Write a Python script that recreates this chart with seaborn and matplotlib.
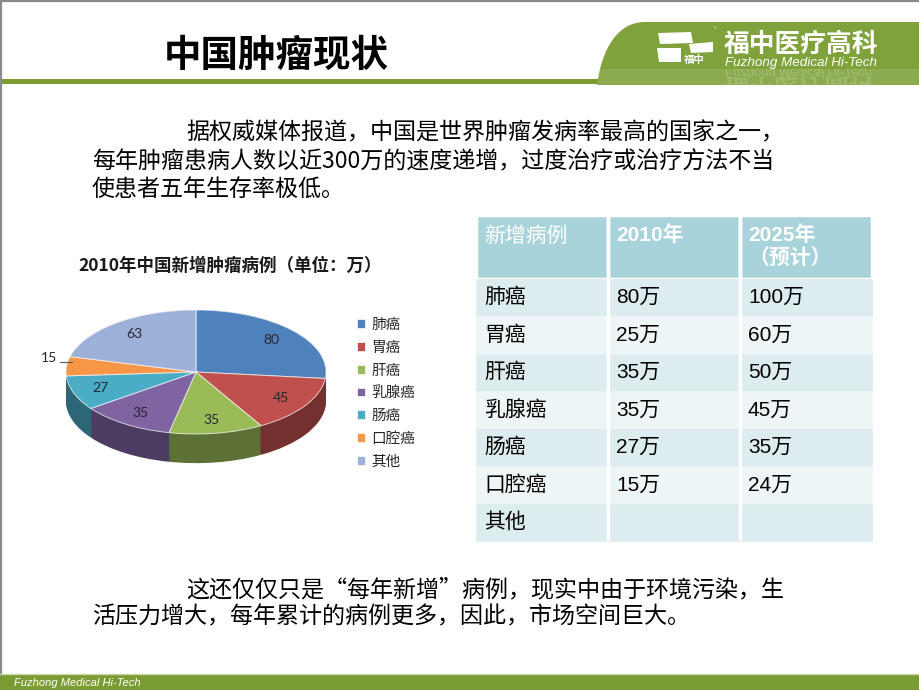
import numpy as np
import matplotlib
matplotlib.use('Agg')
import matplotlib.pyplot as plt
import seaborn as sns
from matplotlib.patches import Rectangle, Polygon, PathPatch
from matplotlib.path import Path
from matplotlib.textpath import TextPath
from matplotlib.font_manager import FontProperties

# ---------------- data ----------------
slide_title = '中国肿瘤现状'
company_cn = '福中医疗高科'
company_en = 'Fuzhong Medical Hi-Tech'
para1_lines = ['据权威媒体报道，中国是世界肿瘤发病率最高的国家之一，',
               '每年肿瘤患病人数以近300万的速度递增，过度治疗或治疗方法不当',
               '使患者五年生存率极低。']
para2_lines = ['这还仅仅只是“每年新增”病例，现实中由于环境污染，生',
               '活压力增大，每年累计的病例更多，因此，市场空间巨大。']
chart_title = '2010年中国新增肿瘤病例（单位：万）'
categories = ['肺癌', '胃癌', '肝癌', '乳腺癌', '肠癌', '口腔癌', '其他']
pie_values = [80, 45, 35, 35, 27, 15, 63]
table_header = ['新增病例', '2010年', '2025年\n（预计）']
table_2010 = ['80万', '25万', '35万', '35万', '27万', '15万', '']
table_2025 = ['100万', '60万', '50万', '45万', '35万', '24万', '']
pie_colors = ['#4F81BD', '#C0504D', '#9BBB59', '#8064A2', '#4BACC6', '#F79646', '#9DB0D8']

# ---------------- style ----------------
sns.set_theme(style='white')
plt.rcParams['font.family'] = ['Noto Sans CJK SC', 'DejaVu Sans']
MIXED = ['Liberation Sans', 'Noto Sans CJK SC']

GREEN = '#7B9B33'
fig = plt.figure(figsize=(9.2, 6.9), dpi=100)
fig.patch.set_facecolor('white')

bg = fig.add_axes([0, 0, 1, 1])
bg.set_xlim(0, 920)
bg.set_ylim(690, 0)
bg.axis('off')

# frame lines
bg.plot([0, 920], [0.8, 0.8], color='#8a8a8a', lw=1.6)
bg.plot([1.2, 1.2], [0, 675], color='#8a8a8a', lw=1.6)

# title underline
bg.add_patch(Rectangle((0, 79), 640, 4.5, color=GREEN, lw=0))

# logo shape
verts = [(597, 85), (602, 48), (618, 22), (645, 22), (920, 22), (920, 85), (597, 85)]
codes = [Path.MOVETO, Path.CURVE4, Path.CURVE4, Path.CURVE4, Path.LINETO, Path.LINETO, Path.CLOSEPOLY]
logo = PathPatch(Path(verts, codes), facecolor='#7FA23A', edgecolor='none')
bg.add_patch(logo)
band = Rectangle((590, 69), 330, 16, facecolor='white', alpha=0.10, lw=0)
bg.add_patch(band)
band.set_clip_path(logo)

# logo icon
bg.add_patch(Polygon([(658, 33), (691, 32), (693, 43), (660, 44)], closed=True, color='white', lw=0))
bg.add_patch(Polygon([(689, 44), (713, 42), (713, 52), (691, 53)], closed=True, color='white', lw=0))
bg.add_patch(Polygon([(657, 48), (681, 48), (681, 62), (659, 62)], closed=True, color='white', lw=0))
bg.text(684, 60, '福中', fontsize=7.5, fontweight='bold', color='white', va='center', ha='left')
bg.text(714, 30, '®', fontsize=4, color='white', va='center', ha='left')

bg.text(724, 44, company_cn, fontsize=18.5, fontweight='bold', color='white', va='center', ha='left')
bg.text(725, 63, company_en, fontsize=9.6, style='italic', color='white', va='center', ha='left',
        family='Liberation Sans')
# reflections (mirrored via inverted axis)
tp_en = TextPath((725, 69), company_en, size=13,
                 prop=FontProperties(family='Liberation Sans', style='italic'))
p1 = PathPatch(tp_en, facecolor='white', alpha=0.22, lw=0, transform=bg.transData)
bg.add_patch(p1)
p1.set_clip_path(logo)
tp_cn = TextPath((724, 79), company_cn, size=25,
                 prop=FontProperties(family='Noto Sans CJK SC', weight='bold'))
p2 = PathPatch(tp_cn, facecolor='white', alpha=0.16, lw=0, transform=bg.transData)
bg.add_patch(p2)
p2.set_clip_path(logo)

# slide title
bg.text(164, 55, slide_title, fontsize=27, fontweight='bold', color='black', va='center', ha='left')

# paragraphs
for line, x, y in zip(para1_lines, [186, 92, 92], [133, 162, 190]):
    bg.text(x, y, line, fontsize=16.6, fontweight='light', color='black', va='center', ha='left')
for line, x, y in zip(para2_lines, [186, 92], [590, 617]):
    bg.text(x, y, line, fontsize=16.6, fontweight='light', color='black', va='center', ha='left')

# footer
bg.add_patch(Rectangle((0, 675), 920, 15, color=GREEN, lw=0))
bg.plot([0, 920], [673.5, 673.5], color='#C9D7A8', lw=1)
bg.text(14, 683, company_en, fontsize=8, style='italic', color='white', va='center', ha='left',
        family='Liberation Sans')

# ---------------- 3D-like pie ----------------
bg.text(78, 266, chart_title, fontsize=12.6, fontweight='bold', color='#1a1a1a', va='center', ha='left')

pax = fig.add_axes([56 / 920, 1 - 480 / 690, 280 / 920, 180 / 690])
pal = sns.color_palette(pie_colors)
dark = [tuple(np.array(c) * 0.6) for c in pal]
depth = 0.47
for d in np.linspace(depth, 0.0, 30):
    pax.pie(pie_values, colors=dark, startangle=90, counterclock=False,
            center=(0, -d), wedgeprops=dict(linewidth=0))
wedges, texts, autotexts = pax.pie(
    pie_values, colors=pal, startangle=90, counterclock=False,
    labels=[str(v) for v in pie_values], labeldistance=1.07,
    autopct=lambda p: '', pctdistance=0.78,
    wedgeprops=dict(edgecolor=(1, 1, 1, 0.7), linewidth=0.7),
    textprops=dict(fontsize=10, color='#262633', family=['Lato', 'DejaVu Sans']))
for w, t, at, v in zip(wedges, texts, autotexts, pie_values):
    if v < 20:
        at.set_text('')
        mid = np.deg2rad((w.theta1 + w.theta2) / 2)
        ly = 1.07 * np.sin(mid) + 0.13
        t.set_y(ly)
        pax.plot([1.05 * np.cos(mid), 0.955 * np.cos(mid)], [ly - 0.07, ly - 0.07],
                 color='#595959', lw=0.8)
    else:
        t.set_visible(False)
        at.set_text(str(v))
pax.set_aspect('auto')
pax.set_xlim(-1.077, 1.077)
pax.set_ylim(-1.742, 1.161)
pax.axis('off')

fig.legend(handles=wedges, labels=categories, loc='upper left',
           bbox_to_anchor=(357 / 920, 1 - 318 / 690), frameon=False, fontsize=10.5,
           handlelength=0.55, handleheight=0.55, handletextpad=0.45,
           labelspacing=0.6, borderaxespad=0, borderpad=0,
           labelcolor='#262626')

# ---------------- table ----------------
tax = fig.add_axes([476 / 920, 1 - 541 / 690, 396 / 920, 326 / 690])
tax.set_xlim(0, 1)
tax.set_ylim(0, 1)
tax.axis('off')
cell_text = [[table_header[0] + '\n ', table_header[1] + '\n ', table_header[2]]] + \
    [[c, a, b] for c, a, b in zip(categories, table_2010, table_2025)]
tbl = tax.table(cellText=cell_text, cellLoc='left', bbox=[0, 0, 1, 1])
tbl.auto_set_font_size(False)
for (r, c), cell in tbl.get_celld().items():
    cell.set_height(64 if r == 0 else 37.5)
    cell.PAD = 0.06
    txt = cell.get_text()
    txt.set_fontfamily(MIXED)
    if r == 0:
        cell.set_facecolor('#A9D3DA')
        cell.set_edgecolor('white')
        cell.set_linewidth(2.5)
        txt.set_color('white')
        txt.set_fontsize(15)
        txt.set_linespacing(1.25)
        if c > 0:
            txt.set_fontweight('bold')
    else:
        fc = '#DDECEF' if r % 2 == 1 else '#EDF5F7'
        cell.set_facecolor(fc)
        cell.set_edgecolor(fc)
        cell.set_linewidth(0.5)
        txt.set_color('black')
        txt.set_fontsize(15)
for xb in [1 / 3, 2 / 3]:
    tax.axvline(xb, color='white', lw=2.5, zorder=5)

fig.savefig('out.png', dpi=100)
